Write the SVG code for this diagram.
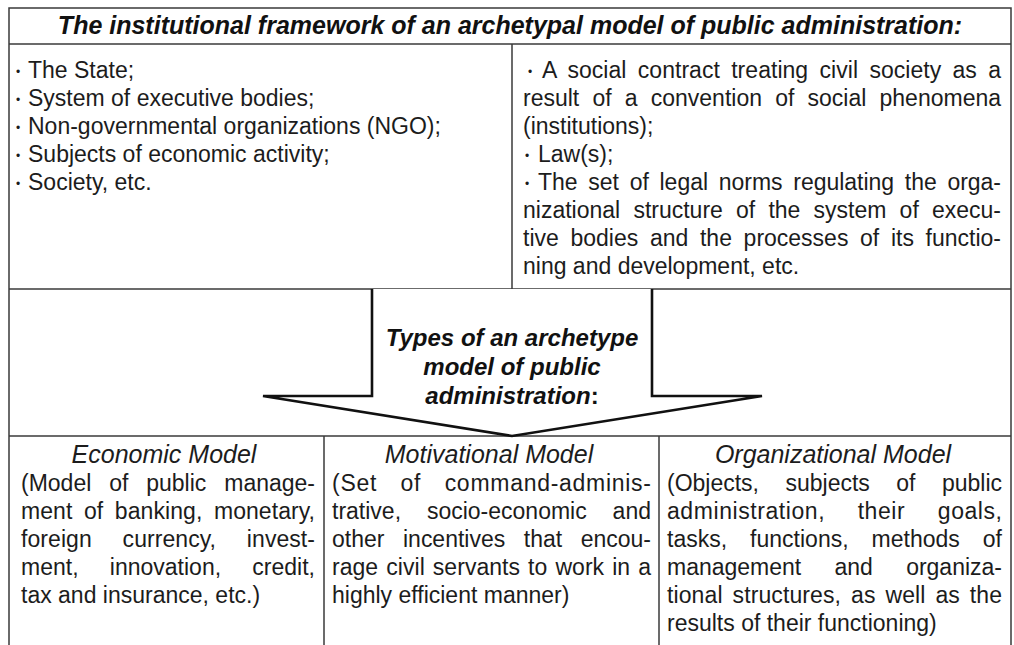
<svg xmlns="http://www.w3.org/2000/svg" width="1014" height="645" viewBox="0 0 1014 645">
<style>
.ln{stroke:#3a3a3a;stroke-width:1.5;fill:none}
.ar{stroke:#111;stroke-width:2.6;fill:#fff;stroke-linejoin:miter}
text{font-family:"Liberation Sans",Arial,sans-serif;fill:#1c1c1c}
.b{font-size:23px}
.bi{font-size:24px;font-weight:bold;font-style:italic;fill:#111}
.tt{font-size:25px}
.hd{font-size:25px;font-style:italic;text-anchor:middle}
.dot{font-size:12px}
.mid{text-anchor:middle}
.up{font-style:normal}
</style>
<rect width="1014" height="645" fill="#fff"/>
<g id="frame">
<path class="ln" d="M9,645 V8 H1011 V645"/>
<path class="ln" d="M9,44 H1011"/>
<path class="ln" d="M512,44 V289"/>
<path class="ln" d="M9,289 H1011"/>
<path class="ln" d="M9,436 H1011"/>
<path class="ln" d="M324,436 V645"/>
<path class="ln" d="M659,436 V645"/>
</g>
<g id="title">
<text class="bi tt mid" x="510" y="34">The institutional framework of an archetypal model of public administration:</text>
</g>
<g id="framework-left">
<text class="dot" x="16" y="76">•</text><text class="b" x="28" y="78">The State;</text>
<text class="dot" x="16" y="104">•</text><text class="b" x="28" y="106">System of executive bodies;</text>
<text class="dot" x="16" y="132">•</text><text class="b" x="28" y="134">Non-governmental organizations (NGO);</text>
<text class="dot" x="16" y="160">•</text><text class="b" x="28" y="162">Subjects of economic activity;</text>
<text class="dot" x="16" y="188">•</text><text class="b" x="28" y="190">Society, etc.</text>
</g>
<g id="framework-right">
<text class="dot" x="528" y="76">•</text><text class="b" x="542" y="78" word-spacing="4.9" textLength="459" lengthAdjust="spacing">A social contract treating civil society as a</text>
<text class="b" x="523" y="106" word-spacing="6.8" textLength="478" lengthAdjust="spacing">result of a convention of social phenomena</text>
<text class="b" x="523" y="134">(institutions);</text>
<text class="dot" x="525" y="160">•</text><text class="b" x="538" y="162">Law(s);</text>
<text class="dot" x="525" y="188">•</text><text class="b" x="538" y="190" word-spacing="4.4" textLength="463" lengthAdjust="spacing">The set of legal norms regulating the orga-</text>
<text class="b" x="523" y="218" word-spacing="6.8" textLength="478" lengthAdjust="spacing">nizational structure of the system of execu-</text>
<text class="b" x="523" y="246" word-spacing="5.3" textLength="478" lengthAdjust="spacing">tive bodies and the processes of its functio-</text>
<text class="b" x="523" y="274">ning and development, etc.</text>
</g>
<g id="connectors">
<path class="ar" d="M372,289 V396 H263 L512,436 L762,396 H652 V289"/>
</g>
<g id="types">
<text class="bi mid" x="512" y="346">Types of an archetype</text>
<text class="bi mid" x="512" y="375">model of public</text>
<text class="bi mid" x="512" y="404">administration<tspan class="up">:</tspan></text>
</g>
<g id="economic">
<text class="hd" x="164" y="463">Economic Model</text>
<text class="b" x="21" y="491" word-spacing="11.5" textLength="294" lengthAdjust="spacing">(Model of public manage-</text>
<text class="b" x="21" y="519" word-spacing="5.1" textLength="294" lengthAdjust="spacing">ment of banking, monetary,</text>
<text class="b" x="21" y="547" word-spacing="24.3" textLength="294" lengthAdjust="spacing">foreign currency, invest-</text>
<text class="b" x="21" y="575" word-spacing="24.9" textLength="294" lengthAdjust="spacing">ment, innovation, credit,</text>
<text class="b" x="21" y="603">tax and insurance, etc.)</text>
</g>
<g id="motivational">
<text class="hd" x="489" y="463">Motivational Model</text>
<text class="b" x="332" y="491" word-spacing="16.4" textLength="319" lengthAdjust="spacing">(Set of command-adminis-</text>
<text class="b" x="332" y="519" word-spacing="19.5" textLength="319" lengthAdjust="spacing">trative, socio-economic and</text>
<text class="b" x="332" y="547" word-spacing="12.2" textLength="319" lengthAdjust="spacing">other incentives that encou-</text>
<text class="b" x="332" y="575" word-spacing="1.6" textLength="319" lengthAdjust="spacing">rage civil servants to work in a</text>
<text class="b" x="332" y="603">highly efficient manner)</text>
</g>
<g id="organizational">
<text class="hd" x="833" y="463">Organizational Model</text>
<text class="b" x="667" y="491" word-spacing="20.1" textLength="335" lengthAdjust="spacing">(Objects, subjects of public</text>
<text class="b" x="667" y="519" word-spacing="25.6" textLength="335" lengthAdjust="spacing">administration, their goals,</text>
<text class="b" x="667" y="547" word-spacing="16.6" textLength="335" lengthAdjust="spacing">tasks, functions, methods of</text>
<text class="b" x="667" y="575" word-spacing="26.9" textLength="335" lengthAdjust="spacing">management and organiza-</text>
<text class="b" x="667" y="603" word-spacing="3.4" textLength="335" lengthAdjust="spacing">tional structures, as well as the</text>
<text class="b" x="667" y="631">results of their functioning)</text>
</g>
</svg>
